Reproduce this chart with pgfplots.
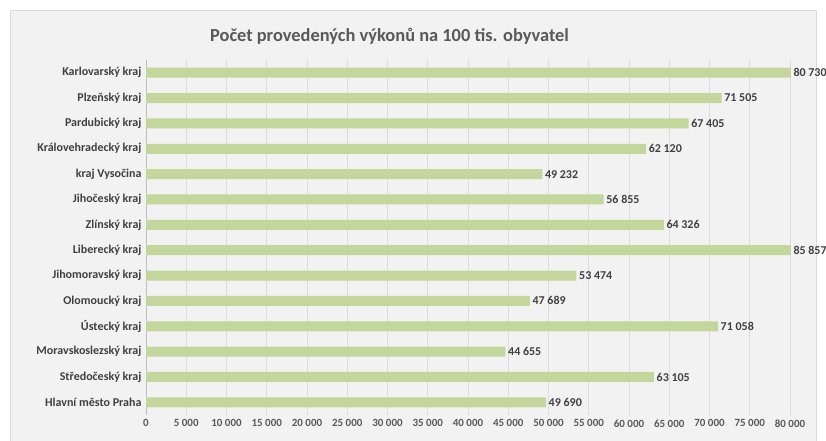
\documentclass[border=0pt]{standalone}
\usepackage{fontspec}
\setmainfont{Carlito}
\usepackage{pgfplots}
\pgfplotsset{compat=1.18}
\usepackage{pgfplotstable}
\usetikzlibrary{backgrounds}

\definecolor{barfill}{HTML}{C3D69B}
\definecolor{chartbg}{HTML}{F2F2F2}
\definecolor{frame}{HTML}{D9D9D9}
\definecolor{gridc}{HTML}{DCDCDC}
\definecolor{axisc}{HTML}{BFBFBF}
\definecolor{titlec}{HTML}{595959}
\definecolor{labelc}{HTML}{404040}

% i = pozice zdola, v = hodnota
\pgfplotstableread{
i v
0 49690
1 63105
2 44655
3 71058
4 47689
5 53474
6 85857
7 64326
8 56855
9 49232
10 62120
11 67405
12 71505
13 80730
}\kraje

\begin{document}
\begin{tikzpicture}
% osa zacina v (0,0); obrazek je 826 x 440 pt, levy dolni roh osy v (146,25)
\useasboundingbox (-146pt,-25pt) rectangle (680pt,415pt);
\begin{axis}[
    scale only axis, width=644pt, height=355pt,
    xbar, bar width=10pt,
    xmin=0, xmax=80000,
    ymin=-0.5, ymax=13.5,
    clip=false,
    axis line style={draw=none},
    xtick={0,5000,...,80000},
    ytick={0,...,13},
    yticklabels={Hlavní město Praha, Středočeský kraj, Moravskoslezský kraj, Ústecký kraj, Olomoucký kraj, Jihomoravský kraj, Liberecký kraj, Zlínský kraj, Jihočeský kraj, kraj Vysočina, Královehradecký kraj, Pardubický kraj, Plzeňský kraj, Karlovarský kraj},
    major tick length=0pt,
    xmajorgrids, grid style={gridc, line width=1pt},
    extra x ticks={0}, extra x tick labels={},
    extra x tick style={grid style={color=axisc, line width=1pt}},
    /pgf/number format/assume math mode=true,
    /pgf/number format/1000 sep={\ },
    scaled x ticks=false,
    xticklabel style={font=\bfseries\fontsize{11}{13}\selectfont, text=titlec, yshift=-1pt},
    yticklabel style={font=\bfseries\fontsize{12}{14}\selectfont, text=labelc, xshift=-1pt},
    nodes near coords={\pgfmathprintnumber[fixed, precision=0, 1000 sep={\ }, assume math mode=true]{\pgfplotspointmeta}},
    nodes near coords align={horizontal},
    nodes near coords style={font=\bfseries\fontsize{12}{14}\selectfont, text=labelc, inner sep=2.5pt},
    point meta=explicit,
    x filter/.expression={min(x,80100)},
  ]
  \addplot[fill=barfill, draw=none] table[x=v, y=i, meta=v] {\kraje};
\end{axis}
\begin{scope}[on background layer]
\clip (-146pt,-25pt) rectangle (680pt,415pt);
\fill[white] (-146pt,-25pt) rectangle (680pt,415pt);
\path[fill=chartbg, draw=frame, line width=1pt] (-135.5pt,-28pt) rectangle (670.5pt,404.5pt);
\end{scope}
\node[font=\bfseries\fontsize{18.4}{22}\selectfont, text=titlec] at (243.5pt,379pt) {Počet provedených výkonů na 100 tis. obyvatel};
\end{tikzpicture}
\end{document}
